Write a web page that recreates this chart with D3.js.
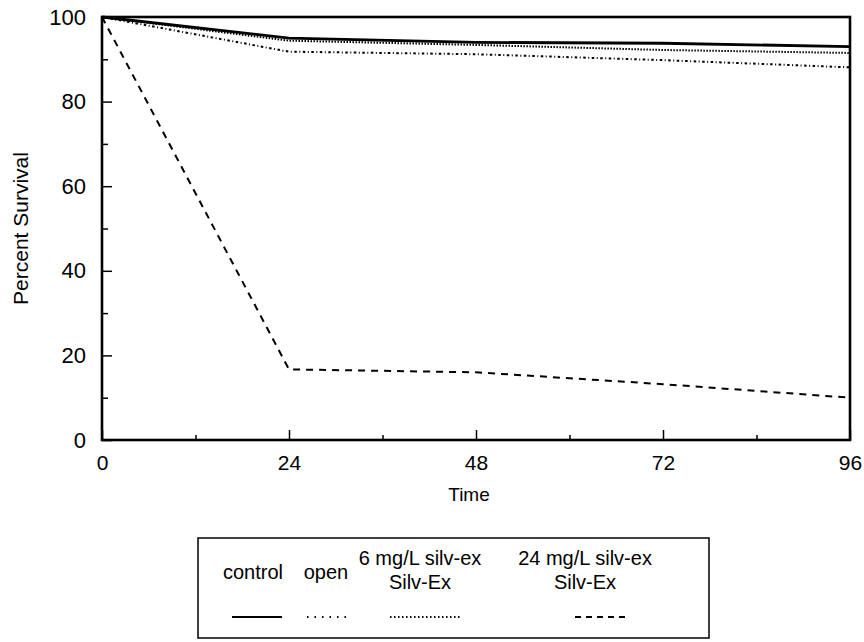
<!DOCTYPE html>
<html>
<head>
<meta charset="utf-8">
<script src="https://cdn.jsdelivr.net/npm/d3@7"></script>
<style>
  html, body { margin: 0; padding: 0; background: #fff; }
  svg { display: block; font-family: "Liberation Sans", Arial, Helvetica, sans-serif; }
</style>
</head>
<body>
<svg id="chart" width="864" height="642"></svg>
<script>
// Survival over time (hours) for each treatment
const times = [0, 24, 48, 72, 96];
const controlValues = [100, 95, 94, 93.8, 93];
const openValues = [100, 91.8, 91.2, 89.8, 88.1];
const silvEx6Values = [100, 94.4, 93.4, 92.2, 91.5];
const silvEx24Values = [100, 16.7, 16, 13.2, 10];

const xTicks = [0, 24, 48, 72, 96];
const xMinorTicks = [12, 36, 60, 84];
const yTicks = [0, 20, 40, 60, 80, 100];
const yMinorTicks = [10, 30, 50, 70, 90];

const seriesNames = ["control", "open", "6 mg/L silv-ex\nSilv-Ex", "24 mg/L silv-ex\nSilv-Ex"];
const seriesValues = [controlValues, openValues, silvEx6Values, silvEx24Values];
const seriesDash = [null, "2.5,2.5,1,2.5", "1.5,1.5", "7,6"];
const legendDash = [null, "1.5,6", "1.5,2.5", "6,5"];

const svg = d3.select("#chart");
const margin = { left: 102, right: 14, top: 17, bottom: 202 };
const W = 864, H = 642;
const x = d3.scaleLinear().domain([0, 96]).range([margin.left, W - margin.right]);
const y = d3.scaleLinear().domain([0, 100]).range([H - margin.bottom, margin.top]);
const fontStack = "Liberation Sans, Arial, sans-serif";

// Frame
svg.append("rect")
  .attr("x", x(0)).attr("y", y(100))
  .attr("width", x(96) - x(0)).attr("height", y(0) - y(100))
  .attr("fill", "none").attr("stroke", "#000").attr("stroke-width", 2.6);

// Bottom axis: inward ticks
const xAxis = d3.axisBottom(x).tickValues(xTicks).tickSize(-10).tickPadding(15).tickFormat(d3.format("d"));
const gx = svg.append("g").attr("transform", `translate(0,${y(0)})`).call(xAxis);
gx.select(".domain").remove();
gx.selectAll(".tick line").attr("stroke-width", 1.5);
gx.selectAll(".tick text").attr("font-size", 21).attr("fill", "#000").attr("font-family", fontStack);
const gxm = svg.append("g").attr("transform", `translate(0,${y(0)})`)
  .call(d3.axisBottom(x).tickValues(xMinorTicks).tickSize(-5).tickFormat(""));
gxm.select(".domain").remove();
gxm.selectAll(".tick line").attr("stroke-width", 1.5);

// Left axis: inward ticks
const yAxis = d3.axisLeft(y).tickValues(yTicks).tickSize(-10).tickPadding(16).tickFormat(d3.format("d"));
const gy = svg.append("g").attr("transform", `translate(${x(0)},0)`).call(yAxis);
gy.select(".domain").remove();
gy.selectAll(".tick line").attr("stroke-width", 1.5);
gy.selectAll(".tick text").attr("font-size", 22).attr("fill", "#000").attr("font-family", fontStack);
const gym = svg.append("g").attr("transform", `translate(${x(0)},0)`)
  .call(d3.axisLeft(y).tickValues(yMinorTicks).tickSize(-6).tickFormat(""));
gym.select(".domain").remove();
gym.selectAll(".tick line").attr("stroke-width", 1.5);

// Axis titles
svg.append("text").attr("x", 469).attr("y", 501).attr("text-anchor", "middle")
  .attr("font-size", 19).text("Time");
svg.append("text").attr("transform", `translate(28,${(y(0) + y(100)) / 2}) rotate(-90)`)
  .attr("text-anchor", "middle").attr("font-size", 21).text("Percent Survival");

// Series lines
const line = d3.line().x((d, i) => x(times[i])).y(d => y(d));
seriesValues.forEach((vals, i) => {
  svg.append("path").datum(vals)
    .attr("d", line)
    .attr("fill", "none").attr("stroke", "#000")
    .attr("stroke-width", i === 0 ? 2.8 : 2)
    .attr("stroke-dasharray", seriesDash[i]);
});

// Legend
svg.append("rect").attr("x", 198).attr("y", 538).attr("width", 511).attr("height", 100)
  .attr("fill", "none").attr("stroke", "#000").attr("stroke-width", 1.5);
const legendCenters = [253, 326, 420, 585];
const legendSamples = [[232, 282], [307, 350], [390, 462], [575, 628]];
seriesNames.forEach((name, i) => {
  const lines = name.split("\n");
  const t = svg.append("text").attr("text-anchor", "middle").attr("font-size", 20);
  if (lines.length === 1) {
    t.append("tspan").attr("x", legendCenters[i]).attr("y", 579).text(lines[0]);
  } else {
    t.append("tspan").attr("x", legendCenters[i]).attr("y", 565).text(lines[0]);
    t.append("tspan").attr("x", legendCenters[i]).attr("y", 589).text(lines[1]);
  }
  svg.append("line")
    .attr("x1", legendSamples[i][0]).attr("x2", legendSamples[i][1])
    .attr("y1", 617).attr("y2", 617)
    .attr("stroke", "#000").attr("stroke-width", 2)
    .attr("stroke-dasharray", legendDash[i]);
});
</script>
</body>
</html>
